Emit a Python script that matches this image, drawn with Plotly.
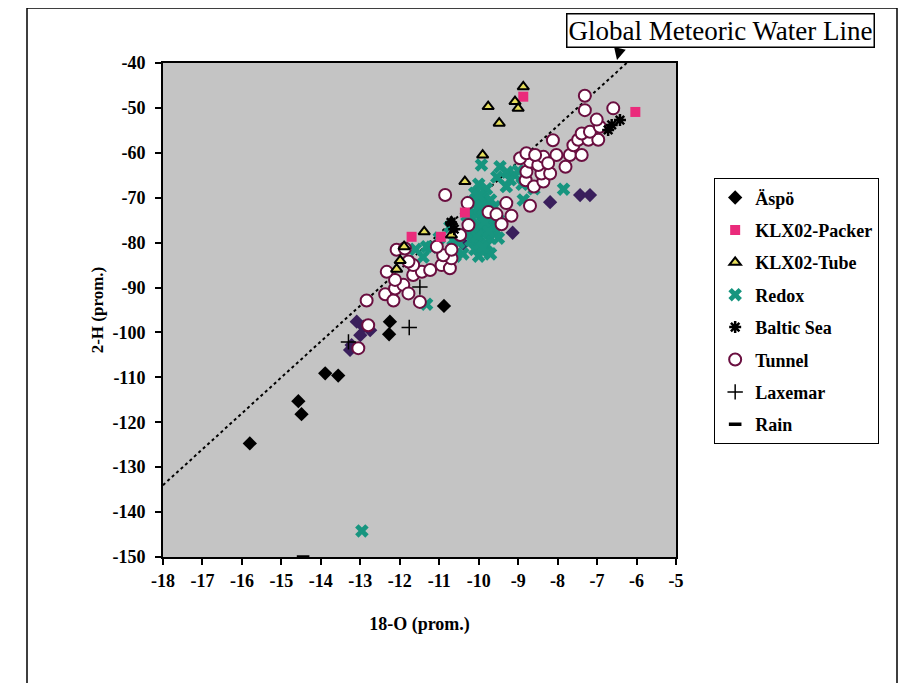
import plotly.graph_objects as go

# ---------------- data ----------------
aspo_x = [-15.80, -14.57, -14.49, -13.89, -13.56, -12.25, -12.27, -10.88,
          -13.26, -13.22, -12.92, -13.09, -12.75, -13.00, -8.19, -7.43, -7.18, -9.14, -10.39]
aspo_y = [-124.7, -115.3, -118.2, -109.1, -109.6, -97.6, -100.4, -94.1,
          -103.9, -102.8, -98.7, -97.6, -99.5, -100.6, -71.0, -69.4, -69.4, -77.8, -80.2]
aspo_dark = [True] * 8 + [False] * 11

packer_x = [-8.87, -11.70, -10.35, -10.96, -6.03]
packer_y = [-47.5, -78.7, -73.3, -78.7, -50.9]

tube_x = [-8.87, -9.08, -9.00, -9.76, -9.48, -9.90, -10.35, -11.38, -11.89, -10.69, -10.69, -11.99, -12.08]
tube_y = [-45.3, -48.6, -50.1, -49.7, -53.4, -60.5, -66.4, -77.6, -80.9, -75.4, -78.3, -84.0, -85.9]

redox_x = [-12.96, -11.32, -11.41, -11.32, -10.73, -10.65, -9.93, -9.46, -7.85, -8.87,
           -9.28, -9.08, -9.54, -9.20, -8.90, -9.00, -8.60, -9.30,
           -10.0, -9.8, -10.1, -9.9, -9.7, -10.2, -10.0, -9.8, -10.1, -9.9,
           -9.7, -10.2, -10.0, -9.8, -9.6, -10.1, -9.9, -9.7, -10.2, -10.0,
           -9.8, -9.9, -10.1, -9.7, -10.3, -10.3, -9.6, -9.5, -9.5, -10.0,
           -10.5, -10.6, -10.4, -11.0, -11.6, -11.2,
           -9.95, -9.85, -10.05, -9.75, -10.15, -9.9, -10.0, -9.8]
redox_y = [-144.2, -93.7, -83.2, -80.9, -76.5, -79.4, -62.7, -63.1, -68.1, -70.5,
           -64.3, -65.0, -65.4, -66.0, -67.0, -64.0, -68.0, -67.5,
           -67.0, -68.0, -69.0, -70.0, -70.5, -71.0, -72.0, -72.5, -73.5, -74.0,
           -74.5, -75.0, -76.0, -76.5, -77.0, -77.5, -78.0, -79.0, -79.5, -80.0,
           -80.5, -82.0, -81.5, -82.5, -78.0, -74.0, -72.0, -75.0, -79.0, -83.0,
           -80.0, -83.0, -82.5, -79.0, -81.5, -81.0,
           -71.5, -75.5, -78.5, -77.5, -76.5, -81.0, -69.5, -73.0]

baltic_x = [-6.42, -6.63, -6.72, -10.70, -10.62]
baltic_y = [-52.7, -53.8, -54.9, -75.5, -77.0]

tunnel_x = [-13.05, -12.80, -12.84, -12.37, -12.16, -12.12, -11.91, -11.78, -11.49, -12.12,
            -12.33, -11.66, -11.44, -11.23, -10.94, -10.73, -10.69, -10.90, -11.06, -11.66,
            -11.78, -12.08, -11.87, -10.69, -10.47, -10.26, -10.85, -10.28, -9.75, -9.55,
            -9.30, -9.17, -9.42, -8.70,
            -8.81, -8.60, -8.36, -8.41, -8.19, -8.79, -8.03, -8.70, -8.49, -8.36,
            -8.95, -8.79, -8.57, -8.24, -7.80, -7.69, -7.60, -8.12, -7.39, -7.48,
            -7.22, -6.97, -7.39, -7.18, -6.93, -7.01, -6.59, -7.31, -7.31]
tunnel_y = [-103.5, -98.4, -92.9, -91.5, -92.9, -90.2, -89.4, -91.3, -93.2, -88.3,
            -86.5, -87.2, -86.5, -86.1, -85.0, -85.7, -83.5, -82.8, -80.9, -85.0,
            -84.2, -81.6, -81.3, -81.6, -78.3, -76.1, -69.4, -71.2, -73.2, -73.7,
            -71.2, -74.0, -75.9, -71.8,
            -66.1, -67.5, -66.4, -64.6, -64.6, -64.2, -60.5, -62.0, -62.7, -60.9,
            -61.2, -60.1, -60.5, -62.3, -63.1, -60.5, -58.3, -57.2, -60.5, -57.1,
            -57.1, -57.1, -55.7, -55.3, -54.2, -52.6, -50.1, -50.5, -47.3]

laxemar_x = [-11.76, -13.30, -11.49]
laxemar_y = [-98.9, -102.1, -89.9]

rain_x = [-14.45]
rain_y = [-150.0]

gmwl_x = [-18.0, -6.25]
gmwl_y = [8 * v + 10 for v in gmwl_x]

x_ticks = list(range(-18, -4))
y_ticks = list(range(-150, -39, 10))

# ---------------- figure ----------------
SERIF = "Liberation Serif"
fig = go.Figure()

fig.add_trace(go.Scatter(x=gmwl_x, y=gmwl_y, mode="lines", showlegend=False,
                         line=dict(color="black", width=2, dash="dot"), hoverinfo="skip"))

fig.add_trace(go.Scatter(x=aspo_x, y=aspo_y, mode="markers", name="Äspö", legendrank=1,
                         legendgroup="a",
                         marker=dict(symbol="diamond", size=11,
                                     color=["#000000" if d else "#3a1f5c" for d in aspo_dark],
                                     line=dict(width=0))))
fig.add_trace(go.Scatter(x=redox_x, y=redox_y, mode="markers", name="Redox", legendrank=4,
                         legendgroup="d",
                         marker=dict(symbol="x", size=12, color="#17957f", line=dict(width=0))))
fig.add_trace(go.Scatter(x=tunnel_x, y=tunnel_y, mode="markers", name="Tunnel", legendrank=6,
                         legendgroup="f",
                         marker=dict(symbol="circle", size=12, color="white",
                                     line=dict(color="#6a0f40", width=2))))
fig.add_trace(go.Scatter(x=packer_x, y=packer_y, mode="markers", name="KLX02-Packer", legendrank=2,
                         legendgroup="b",
                         marker=dict(symbol="square", size=10, color="#ea2b7b", line=dict(width=0))))
fig.add_trace(go.Scatter(x=tube_x, y=tube_y, mode="markers", name="KLX02-Tube", legendrank=3,
                         legendgroup="c",
                         marker=dict(symbol="triangle-up", size=10, color="#e6de5a",
                                     line=dict(color="black", width=2))))
fig.add_trace(go.Scatter(x=baltic_x, y=baltic_y, mode="markers", name="Baltic Sea", legendrank=5,
                         legendgroup="e",
                         marker=dict(symbol="asterisk-open", size=10, color="black",
                                     line=dict(color="black", width=2.5))))
fig.add_trace(go.Scatter(x=laxemar_x, y=laxemar_y, mode="markers", name="Laxemar", legendrank=7,
                         legendgroup="g",
                         marker=dict(symbol="cross-thin-open", size=11, color="black",
                                     line=dict(color="black", width=1.5))))
fig.add_trace(go.Scatter(x=rain_x, y=rain_y, mode="markers", name="Rain", legendrank=8,
                         legendgroup="h",
                         marker=dict(symbol="line-ew-open", size=9, color="black",
                                     line=dict(color="black", width=3.5))))

tickfont = dict(family=SERIF, size=18, color="black", weight="bold")
axis_common = dict(showline=True, linewidth=2, linecolor="black", mirror=True,
                   ticks="outside", ticklen=6, tickwidth=1.5, tickcolor="black",
                   showgrid=False, zeroline=False, tickfont=tickfont)

fig.update_xaxes(range=[-18, -5], tickmode="array", tickvals=x_ticks,
                 ticktext=[str(v) for v in x_ticks],
                 title=dict(text="18-O (prom.)", font=dict(family=SERIF, size=18, color="black", weight="bold"),
                            standoff=28),
                 **axis_common)
fig.update_yaxes(range=[-150, -40], tickmode="array", tickvals=y_ticks,
                 ticktext=[str(v) for v in y_ticks], ticklabelstandoff=6,
                 title=dict(text="2-H (prom.)", font=dict(family=SERIF, size=17, color="black", weight="bold"),
                            standoff=4),
                 **axis_common)

fig.update_layout(
    width=900, height=675,
    margin=dict(l=155, r=232, t=55, b=126),
    paper_bgcolor="white", plot_bgcolor="#c4c4c4",
    font=dict(family=SERIF, color="black"),
    legend=dict(x=1.074, y=0.767, xanchor="left", yanchor="top",
                bgcolor="white", bordercolor="black", borderwidth=1.2,
                font=dict(family=SERIF, size=18, color="black", weight="bold"),
                tracegroupgap=6, itemwidth=30),
    shapes=[dict(type="rect", xref="paper", yref="paper", x0=-0.2651, x1=1.4308,
                 y0=-0.30, y1=1.1113, line=dict(color="black", width=1.5), fillcolor="rgba(0,0,0,0)",
                 layer="below")],
    annotations=[
        dict(text="Global Meteoric Water Line", xref="paper", yref="paper",
             x=1.0867, y=1.0648, xanchor="center", yanchor="middle", showarrow=False,
             font=dict(family=SERIF, size=27, color="black"),
             bordercolor="black", borderwidth=1.5, borderpad=1, bgcolor="white"),
        dict(text=" ", xref="paper", yref="paper", x=0.885, y=1.006, ax=3, ay=-12,
             axref="pixel", ayref="pixel", showarrow=True, arrowhead=2, arrowsize=1.6,
             arrowwidth=1.5, arrowcolor="black", font=dict(size=2)),
    ],
)

fig.write_html("out.html")
